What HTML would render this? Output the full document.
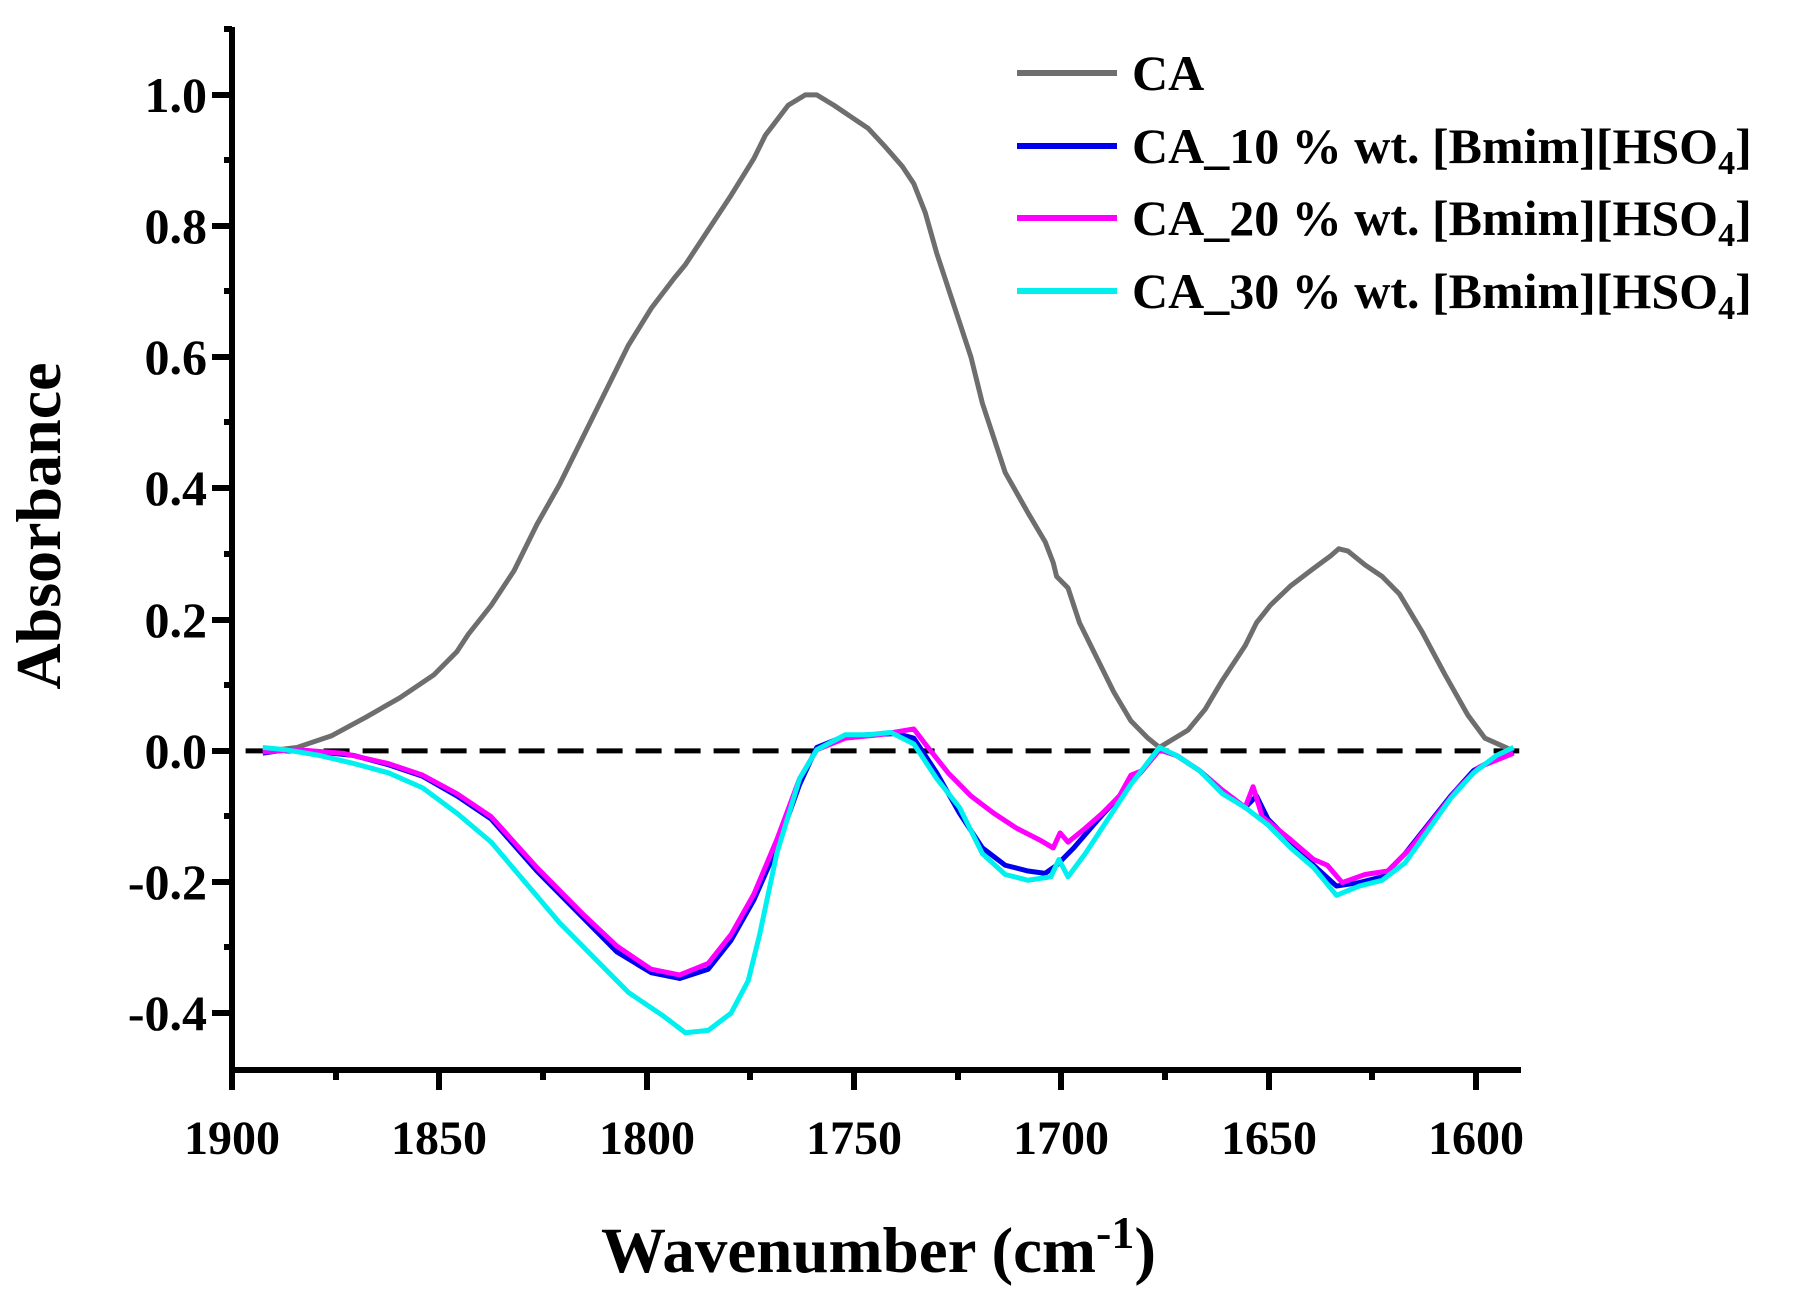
<!DOCTYPE html>
<html><head><meta charset="utf-8"><style>html,body{margin:0;padding:0;background:#fff}svg{display:block}</style></head>
<body>
<svg width="1793" height="1299" viewBox="0 0 1793 1299" xmlns="http://www.w3.org/2000/svg" font-family="'Liberation Serif', serif" font-weight="bold">
<rect width="1793" height="1299" fill="#fff"/>
<g transform="matrix(1.1423 0 0 1.155 0 -1)" fill="none" stroke-linejoin="round">
<line x1="215" y1="651" x2="1330" y2="651" stroke="#000" stroke-width="5" stroke-dasharray="26 13" vector-effect="non-scaling-stroke"/>
<polyline stroke="#6e6e6e" stroke-width="5" vector-effect="non-scaling-stroke" points="235,651 260,648 290,638 320,622 350,605 380,585 400,565 410,550 430,525 450,495 470,455 490,420 510,380 530,340 550,300 570,268 590,242 600,230 620,200 640,170 660,138 670,118 690,92 705,83 715,83 730,92 745,102 760,112 775,128 790,145 800,160 810,185 820,220 835,265 850,310 860,350 870,380 880,410 900,445 915,470 922,488 925,500 935,510 945,540 960,570 975,600 990,625 1005,640 1015,648 1025,642 1040,633 1055,615 1070,590 1090,560 1100,540 1112,525 1130,508 1150,493 1165,482 1172,476 1180,478 1195,490 1210,500 1225,515 1245,548 1265,585 1285,620 1300,640 1325,651"/>
<polyline stroke="#0000ee" stroke-width="5" vector-effect="non-scaling-stroke" points="230,653 250,650 280,652 310,655 340,663 370,673 400,690 430,710 470,755 510,795 540,825 570,843 595,848 620,840 640,815 660,780 680,735 700,680 715,648 740,638 760,637 785,636 800,640 820,670 840,705 860,735 880,750 900,755 915,757 925,750 940,735 960,712 980,690 1000,668 1015,650 1030,655 1050,668 1070,685 1090,700 1100,690 1110,710 1130,730 1150,750 1170,768 1190,765 1210,760 1230,740 1250,715 1270,690 1290,668 1310,657 1325,652"/>
<polyline stroke="#ff00ff" stroke-width="5" vector-effect="non-scaling-stroke" points="230,652 260,650 300,653 340,662 370,672 400,688 430,708 470,752 510,792 540,820 570,840 595,845 620,835 640,810 660,775 680,728 700,675 715,650 740,640 770,637 800,632 810,645 830,670 850,690 870,705 890,718 910,728 922,735 928,722 935,730 950,718 965,705 980,690 990,672 1000,668 1015,650 1030,655 1050,668 1070,685 1090,700 1097,682 1105,708 1130,728 1150,745 1162,750 1175,765 1195,758 1215,755 1235,735 1255,710 1275,685 1295,665 1325,653"/>
<polyline stroke="#00f0f0" stroke-width="5" vector-effect="non-scaling-stroke" points="230,648 250,650 280,655 310,662 340,670 370,683 400,705 430,730 460,765 490,800 520,830 550,860 580,880 600,895 620,893 640,878 655,850 665,810 680,740 700,675 715,650 740,637 760,637 780,635 800,645 820,675 840,700 860,740 880,758 900,763 920,760 927,745 935,760 950,740 970,710 990,680 1015,648 1030,655 1050,668 1070,688 1090,700 1110,715 1130,735 1150,752 1170,776 1190,768 1210,763 1230,748 1250,720 1270,692 1290,670 1310,655 1325,648"/>
</g>
<g stroke="#000" stroke-width="6">
<line x1="232" y1="27" x2="232" y2="1073"/>
<line x1="229" y1="1070" x2="1521" y2="1070"/>
<line x1="212" y1="95" x2="232" y2="95"/><line x1="212" y1="226" x2="232" y2="226"/><line x1="212" y1="357" x2="232" y2="357"/><line x1="212" y1="488" x2="232" y2="488"/><line x1="212" y1="620" x2="232" y2="620"/><line x1="212" y1="751" x2="232" y2="751"/><line x1="212" y1="882" x2="232" y2="882"/><line x1="212" y1="1013" x2="232" y2="1013"/>
<line x1="224" y1="29" x2="232" y2="29"/><line x1="224" y1="160" x2="232" y2="160"/><line x1="224" y1="291" x2="232" y2="291"/><line x1="224" y1="422" x2="232" y2="422"/><line x1="224" y1="554" x2="232" y2="554"/><line x1="224" y1="685" x2="232" y2="685"/><line x1="224" y1="816" x2="232" y2="816"/><line x1="224" y1="947" x2="232" y2="947"/>
<line x1="232" y1="1070" x2="232" y2="1090"/><line x1="439" y1="1070" x2="439" y2="1090"/><line x1="647" y1="1070" x2="647" y2="1090"/><line x1="854" y1="1070" x2="854" y2="1090"/><line x1="1061" y1="1070" x2="1061" y2="1090"/><line x1="1269" y1="1070" x2="1269" y2="1090"/><line x1="1476" y1="1070" x2="1476" y2="1090"/>
<line x1="336" y1="1070" x2="336" y2="1080"/><line x1="543" y1="1070" x2="543" y2="1080"/><line x1="750" y1="1070" x2="750" y2="1080"/><line x1="958" y1="1070" x2="958" y2="1080"/><line x1="1165" y1="1070" x2="1165" y2="1080"/><line x1="1372" y1="1070" x2="1372" y2="1080"/>
</g>
<g font-size="50" text-anchor="end">
<text x="207" y="112">1.0</text><text x="207" y="243">0.8</text><text x="207" y="374">0.6</text><text x="207" y="505">0.4</text><text x="207" y="637">0.2</text><text x="207" y="768">0.0</text><text x="207" y="899">-0.2</text><text x="207" y="1030">-0.4</text>
</g>
<g font-size="48" text-anchor="middle">
<text x="232" y="1154">1900</text><text x="439" y="1154">1850</text><text x="647" y="1154">1800</text><text x="854" y="1154">1750</text><text x="1061" y="1154">1700</text><text x="1269" y="1154">1650</text><text x="1476" y="1154">1600</text>
</g>
<text transform="translate(60,526) rotate(-90)" font-size="64" text-anchor="middle">Absorbance</text>
<text x="601" y="1272" font-size="65" textLength="555">Wavenumber (cm<tspan dy="-24" font-size="46">-1</tspan><tspan dy="24">)</tspan></text>
<g stroke-width="6">
<line x1="1017" y1="73" x2="1117" y2="73" stroke="#6e6e6e"/>
<line x1="1017" y1="146" x2="1117" y2="146" stroke="#0000ee"/>
<line x1="1017" y1="218" x2="1117" y2="218" stroke="#ff00ff"/>
<line x1="1017" y1="291" x2="1117" y2="291" stroke="#00f0f0"/>
</g>
<g font-size="50">
<text x="1132" y="90">CA</text>
<text x="1132" y="163">CA_10 % wt. [Bmim][HSO<tspan dy="11" font-size="34">4</tspan><tspan dy="-11">]</tspan></text>
<text x="1132" y="235">CA_20 % wt. [Bmim][HSO<tspan dy="11" font-size="34">4</tspan><tspan dy="-11">]</tspan></text>
<text x="1132" y="308">CA_30 % wt. [Bmim][HSO<tspan dy="11" font-size="34">4</tspan><tspan dy="-11">]</tspan></text>
</g>
</svg>
</body></html>
